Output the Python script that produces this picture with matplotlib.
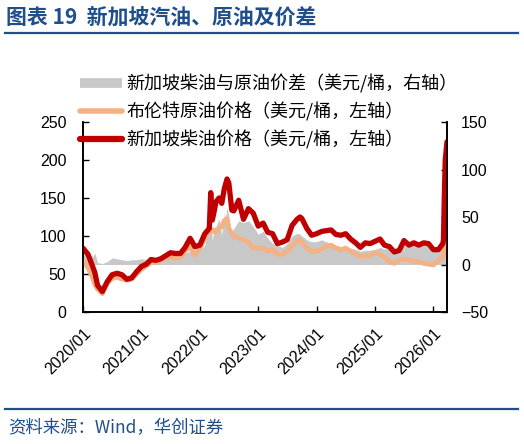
import numpy as np
import pandas as pd
import matplotlib
matplotlib.use("Agg")
import matplotlib.pyplot as plt
import matplotlib.dates as mdates
from matplotlib.lines import Line2D

plt.rcParams['font.family'] = ['Liberation Sans', 'Noto Sans CJK SC', 'DejaVu Sans']
plt.rcParams['axes.unicode_minus'] = True

# monthly readings, Jan 2020 .. Mar 2026 (month starts)
months = pd.date_range("2020-01-01", "2026-03-01", freq="MS")

sg_diesel = [84, 76, 60, 35, 27, 40, 49, 51, 49, 43, 45, 53,
             60, 63, 69, 68, 70, 74, 78, 77, 77, 85, 97, 86,
             88, 103, 110, 133, 150, 160, 170, 133, 147, 122, 136, 130,
             113, 117, 105, 103, 90, 92, 95, 114, 122, 123, 110, 101,
             103, 106, 107, 108, 102, 101, 103, 96, 91, 85, 91, 90,
             93, 96, 88, 86, 79, 81, 94, 88, 91, 88, 91, 90,
             82, 82, 90]
brent = [68, 58, 45, 30, 24, 38, 44, 46, 43, 42, 43, 50,
         56, 61, 65, 65, 68, 71, 72, 71, 72, 80, 86, 75,
         84, 96, 112, 106, 110, 120, 110, 100, 97, 95, 92, 84,
         84, 84, 80, 82, 76, 76, 80, 87, 94, 92, 84, 80,
         80, 83, 86, 88, 84, 82, 84, 80, 76, 73, 74, 74,
         78, 76, 72, 66, 64, 68, 70, 68, 67, 66, 64, 63,
         62, 68, 72]
spread = [14, 12, 8, 2, 1, 3, 7, 6, 5, 4, 5, 5,
          6, 5, 6, 6, 5, 7, 8, 9, 10, 12, 14, 12,
          16, 20, 45, 40, 48, 55, 50, 38, 46, 44, 46, 40,
          32, 35, 28, 22, 20, 18, 22, 30, 33, 30, 26, 24,
          24, 26, 24, 22, 20, 19, 18, 17, 16, 14, 15, 15,
          16, 18, 16, 20, 16, 17, 24, 20, 22, 22, 26, 20,
          18, 16, 18]

# extra daily readings at spikes
extra_dates = ["2020-03-15", "2022-03-10", "2022-03-20", "2022-04-12", "2022-05-18",
               "2022-06-04", "2022-06-20", "2022-07-20", "2023-09-20",
               "2026-03-05", "2026-03-10", "2026-03-16", "2026-03-27"]
extra_diesel = [52, 157, 121, 145, 143, 163, 175, 134, 125, 95, 150, 200, 224]
extra_brent = [36, 105, 108, 105, 112, 120, 123, 104, 95, 74, 85, 98, 108]
extra_spread = [12, 50, 25, 40, 31, 43, 60, 32, 32, 20, 65, 102, 116]

df = pd.DataFrame({"date": list(months) + list(pd.to_datetime(extra_dates)),
                   "diesel": sg_diesel + extra_diesel,
                   "brent": brent + extra_brent,
                   "spread": spread + extra_spread}).sort_values("date")

fig = plt.figure(figsize=(5.24, 4.44), dpi=100)
ax = fig.add_axes([83 / 524, 1 - 312 / 444, 364 / 524, 190 / 444])
ax2 = ax.twinx()
ax.set_zorder(ax2.get_zorder() + 1)
ax.patch.set_visible(False)

gray = "#C8C8C8"
orange = "#F4B183"
red = "#C00000"

ax2.fill_between(df["date"], 0, df["spread"], color=gray, linewidth=0)
ax.plot(df["date"], df["brent"], color=orange, linewidth=3.4, solid_capstyle="round")
ax.plot(df["date"], df["diesel"], color=red, linewidth=3.8, solid_capstyle="round")

ax.set_xlim(df["date"].min(), df["date"].max())
ax.set_ylim(0, 250)
ax2.set_ylim(-50, 150)
ax.set_yticks([0, 50, 100, 150, 200, 250])
ax2.set_yticks([-50, 0, 50, 100, 150])

ax.xaxis.set_major_locator(mdates.YearLocator())
ax.xaxis.set_major_formatter(mdates.DateFormatter("%Y/%m"))
for lbl in ax.get_xticklabels():
    lbl.set_rotation(45)
    lbl.set_ha("right")
    lbl.set_rotation_mode("anchor")

for a in (ax, ax2):
    a.spines["top"].set_visible(False)
    a.tick_params(direction="in", length=4, width=1, labelsize=11.5, colors="#000000")
    for s in a.spines.values():
        s.set_linewidth(1.2)
ax.tick_params(axis="y", pad=12)
ax2.tick_params(axis="y", pad=10)
ax.tick_params(axis="x", pad=10)

handles = [Line2D([], [], color=gray, linewidth=7, solid_capstyle="butt"),
           Line2D([], [], color=orange, linewidth=4, solid_capstyle="round"),
           Line2D([], [], color=red, linewidth=4.5, solid_capstyle="round")]
labels = ["新加坡柴油与原油价差（美元/桶，右轴）",
          "布伦特原油价格（美元/桶，左轴）",
          "新加坡柴油价格（美元/桶，左轴）"]
fig.legend(handles, labels, loc="upper left", bbox_to_anchor=(64 / 524, 1 - 58 / 444),
           frameon=False, handlelength=2.3, handletextpad=0.25, labelspacing=0.5,
           prop={"family": ["Noto Sans CJK SC"], "size": 13})

title_blue = "#1F4E8C"
fig.text(6 / 524, 1 - 17 / 444, "图表 19  新加坡汽油、原油及价差", color=title_blue,
         fontsize=15, fontweight="bold", va="center", family=["Noto Sans CJK SC"])
fig.add_artist(Line2D([5 / 524, 518 / 524], [1 - 33 / 444, 1 - 33 / 444],
                      color=title_blue, linewidth=1.6))
fig.add_artist(Line2D([5 / 524, 518 / 524], [1 - 409 / 444, 1 - 409 / 444],
                      color=title_blue, linewidth=1.6))
fig.text(8 / 524, 1 - 428 / 444, "资料来源：Wind，华创证券", color=title_blue,
         fontsize=12.5, style="italic", va="center", family=["Noto Sans CJK SC", "DejaVu Sans"])

fig.savefig("out.png", dpi=100)
